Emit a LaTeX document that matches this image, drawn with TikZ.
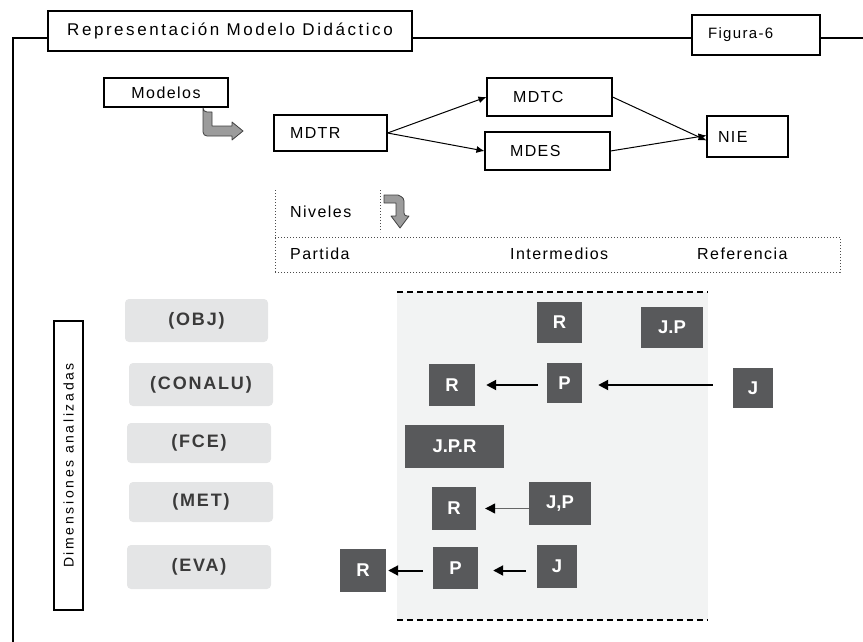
\documentclass[tikz,border=0pt]{standalone}
\usepackage{fontspec}
\setmainfont{Liberation Sans}
\newfontfamily\spf[LetterSpace=9]{Liberation Sans}
\newfontfamily\spt[LetterSpace=15]{Liberation Sans}
\newfontfamily\spd[LetterSpace=19]{Liberation Sans}
\newfontfamily\spb[LetterSpace=10]{Liberation Sans}
\usetikzlibrary{arrows.meta}
\definecolor{dgray}{HTML}{58595B}
\definecolor{lgray}{HTML}{E4E5E6}
\definecolor{panel}{HTML}{F2F3F3}
\definecolor{ltext}{HTML}{3A3A3A}
\definecolor{barrow}{HTML}{9C9C9C}
\tikzset{
  wbox/.style={draw=black, line width=1.1pt, fill=white, inner xsep=0pt, inner ysep=0pt, font=\spf\fontsize{16}{18}\selectfont, align=left},
  dbox/.style={fill=dgray, text=white, inner sep=0pt, font=\bfseries\fontsize{18.5}{20}\selectfont},
  lbox/.style={fill=lgray, rounded corners=4pt, text=ltext, inner sep=0pt, font=\spb\bfseries\fontsize{18}{20}\selectfont},
  lvl/.style={inner sep=0pt, anchor=west, font=\spf\fontsize{16}{18}\selectfont},
  arr/.style={-{Latex[length=8pt,width=7pt]}, line width=1pt},
  darr/.style={-{Triangle[length=10pt,width=10pt]}, line width=2pt},
  barr/.style={fill=barrow, draw=black!75, line width=0.8pt, line join=round},
  dots/.style={dotted, line width=1pt, black!70},
}
\begin{document}
\begin{tikzpicture}[x=1pt,y=-1pt]
\useasboundingbox (0,0) rectangle (863,642);
% header
\node[wbox, minimum width=364, minimum height=40, align=center, font=\spt\fontsize{17}{19}\selectfont] (title) at (230,31) {Representación Modelo Didáctico};
\node[wbox, minimum height=40, inner xsep=16pt, text width=96pt, font=\spf\fontsize{15}{17}\selectfont] (fig) at (756,35) {Figura-6};
\coordinate (fl) at (13,38);
\coordinate (fb) at (13,642);
\coordinate (fr) at (863,38);
\draw[line width=1.1pt] (fb) -- (fl) -- (fl -| title.west);
\draw[line width=1.1pt] (title.east |- fl) -- (fig.west |- fl);
\draw[line width=1.1pt] (fig.east |- fl) -- (fr);
% models
\node[wbox, minimum width=124, minimum height=29, align=center] (modelos) at (166,92.5) {Modelos};
\node[wbox, minimum height=36, inner xsep=16pt, text width=81pt] (mdtr) at (330.5,133) {MDTR};
\node[wbox, minimum height=38, inner xsep=26pt, text width=73pt] (mdtc) at (549.5,97) {MDTC};
\node[wbox, minimum height=38, inner xsep=25pt, text width=75pt] (mdes) at (547.5,151) {MDES};
\node[wbox, minimum height=41, inner xsep=11pt, text width=59pt] (nie) at (747.5,136.5) {NIE};
\draw[arr] (mdtr.east) -- (mdtc.west);
\draw[arr] (mdtr.east) -- (mdes.west);
\draw[arr] (mdtc.east) -- ([yshift=-4pt]nie.west);
\draw[arr] (mdes.east) -- ([yshift=1pt]nie.west);
% bent arrow from Modelos
\draw[barr] (203,112) -- (212,112) -- (212,126) -- (232,126) -- (232,122) -- (243,131) -- (232,140) -- (232,136) -- (209,136) [rounded corners=4pt] -- (203,136) -- (203,112) -- cycle;
% niveles
\node[lvl] (niveles) at (290,212) {Niveles};
\node[lvl] (partida) at (290,254) {Partida};
\node[lvl] (interm) at (510,254) {Intermedios};
\node[lvl] (refer) at (697,254) {Referencia};
\coordinate (n1) at (275,190);
\coordinate (n2) at (380,190);
\coordinate (n3) at (380,232);
\coordinate (h1) at (275,237);
\coordinate (h2) at (840,237);
\coordinate (b1) at (275,272);
\coordinate (b2) at (840,272);
\draw[dots] (n1) -- (b1);
\draw[dots] (n2) -- (n3);
\draw[dots] (h1) -- (h2) -- (b2) -- (b1);
\draw[barr] (384,195) -- (398,195) [rounded corners=3pt] -- (404,198) -- (404,216) [sharp corners] -- (409,216) -- (400,228) -- (391,216) -- (396,216) -- (396,203) -- (384,203) -- cycle;
% panel
\coordinate (p1) at (397,292);
\coordinate (p2) at (708,620);
\fill[panel] (p1) rectangle (p2);
\draw[dashed, line width=1.4pt, dash pattern=on 6pt off 4pt] (p1) -- (p1 -| p2);
\draw[dashed, line width=1.4pt, dash pattern=on 6pt off 4pt] (p1 |- p2) -- (p2);
% left labels
\node[lbox, minimum width=143, minimum height=43] (obj) at (196.5,320.5) {(OBJ)};
\node[lbox, minimum width=144, minimum height=43] (conalu) at (201,384.5) {(CONALU)};
\node[lbox, minimum width=144, minimum height=40] (fce) at (199,443) {(FCE)};
\node[lbox, minimum width=144, minimum height=40] (met) at (201,502) {(MET)};
\node[lbox, minimum width=144, minimum height=44] (eva) at (199,567) {(EVA)};
\node[draw=black, line width=1.1pt, rotate=90, minimum width=289, minimum height=29, inner sep=0pt, font=\spd\fontsize{14}{16}\selectfont] (dim) at (68.5,465.5) {Dimensiones analizadas};
% dark boxes
\node[dbox, minimum width=45, minimum height=41] (r1) at (559.5,322.5) {R};
\node[dbox, minimum width=62, minimum height=41] (jp1) at (672,327.5) {J.P};
\node[dbox, minimum width=46, minimum height=42] (r2) at (452,385) {R};
\node[dbox, minimum width=35, minimum height=40] (p2b) at (564.5,383) {P};
\node[dbox, minimum width=40, minimum height=40] (j2) at (753,388) {J};
\node[dbox, minimum width=99, minimum height=43] (jpr3) at (454.5,446.5) {J.P.R};
\node[dbox, minimum width=44, minimum height=43] (r4) at (454,508.5) {R};
\node[dbox, minimum width=62, minimum height=43] (jp4) at (560,503.5) {J,P};
\node[dbox, minimum width=46, minimum height=43] (r5) at (363,570.5) {R};
\node[dbox, minimum width=45, minimum height=42] (p5) at (455.5,568) {P};
\node[dbox, minimum width=40, minimum height=43] (j5) at (557,566.5) {J};
% arrows
\draw[darr, shorten <=9pt, shorten >=11pt] (p2b.west |- r2.east) -- (r2.east);
\draw[darr, shorten <=20pt, shorten >=16pt] (j2.west |- r2.east) -- (p2b.east |- r2.east);
\draw[-{Triangle[length=10pt,width=10pt,fill=black,color=black]}, line width=1.2pt, black!60, shorten >=9pt] (jp4.west |- r4.east) -- (r4.east);
\draw[darr, shorten <=10pt, shorten >=2pt] (p5.west |- r5.east) -- (r5.east);
\draw[darr, shorten <=11pt, shorten >=15pt] (j5.west |- r5.east) -- (p5.east |- r5.east);
\end{tikzpicture}
\end{document}
